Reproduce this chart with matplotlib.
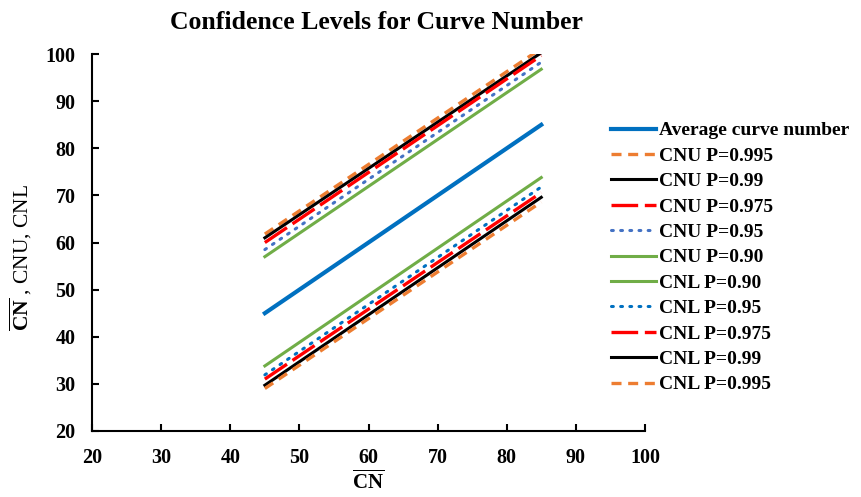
import matplotlib
matplotlib.use("Agg")
import matplotlib.pyplot as plt

plt.rcParams['font.family'] = ['Liberation Serif', 'DejaVu Serif']
plt.rcParams['font.weight'] = 'bold'
plt.rcParams['mathtext.fontset'] = 'custom'
plt.rcParams['mathtext.rm'] = 'Liberation Serif:bold'
plt.rcParams['mathtext.bf'] = 'Liberation Serif:bold'

# data (end points of each straight line)
cn = [45, 85]
avg_cn = [45, 85]
cnu_995 = [61.8, 101.2]
cnu_99 = [61.0, 100.3]
cnu_975 = [60.0, 99.7]
cnu_95 = [58.5, 98.3]
cnu_90 = [57.0, 96.8]
cnl_90 = [33.8, 73.8]
cnl_95 = [31.9, 71.8]
cnl_975 = [31.0, 70.6]
cnl_99 = [29.7, 69.6]
cnl_995 = [29.0, 68.6]

fig = plt.figure(figsize=(8.61, 4.97), dpi=100)
ax = fig.add_axes([0.107, 0.133, 0.642, 0.758])

orange = '#ED7D31'
blue = '#0070C0'
dot_blue = '#4472C4'
green = '#70AD47'
red = '#FF0000'

ax.plot(cn, avg_cn, color=blue, lw=3, label='Average curve number')
ax.plot(cn, cnu_995, color=orange, lw=2.4, ls=(0, (3, 2)), label='CNU P=0.995')
ax.plot(cn, cnu_99, color='black', lw=2.2, label='CNU P=0.99')
ax.plot(cn, cnu_975, color=red, lw=2.4, ls=(0, (8, 2)), label='CNU P=0.975')
ax.plot(cn, cnu_95, color=dot_blue, lw=2.2, ls=(0, (0.6, 2.4)), dash_capstyle='round', label='CNU P=0.95')
ax.plot(cn, cnu_90, color=green, lw=2.2, label='CNU P=0.90')
ax.plot(cn, cnl_90, color=green, lw=2.2, label='CNL P=0.90')
ax.plot(cn, cnl_95, color=blue, lw=2.2, ls=(0, (0.6, 2.4)), dash_capstyle='round', label='CNL P=0.95')
ax.plot(cn, cnl_975, color=red, lw=2.4, ls=(0, (8, 2)), label='CNL P=0.975')
ax.plot(cn, cnl_99, color='black', lw=2.2, label='CNL P=0.99')
ax.plot(cn, cnl_995, color=orange, lw=2.4, ls=(0, (3, 2)), label='CNL P=0.995')

ax.set_xlim(20, 100)
ax.set_ylim(20, 100)
ax.set_xticks(range(20, 101, 10))
ax.set_yticks(range(20, 101, 10))
ax.spines['top'].set_visible(False)
ax.spines['right'].set_visible(False)
for s in ['left', 'bottom']:
    ax.spines[s].set_linewidth(1.5)
ax.tick_params(direction='in', length=5, width=1.5, labelsize=14.5, pad=12)

ax.set_title('Confidence Levels for Curve Number', fontsize=18.5, fontweight='bold', pad=18, x=0.514)
ax.set_xlabel(r'$\overline{\mathrm{CN}}$', fontsize=15, labelpad=2)
ax.set_ylabel(r'$\overline{\mathrm{CN}}$ , CNU, CNL', fontsize=15.5)
ax.yaxis.set_label_coords(-0.105, 0.46)

fig.legend(loc='upper left', bbox_to_anchor=(0.689, 0.79), frameon=False,
           prop={'family': 'Liberation Serif', 'weight': 'bold', 'size': 14},
           handlelength=2.35, handletextpad=0.15, labelspacing=0.40)

fig.savefig('out.png', dpi=100)
